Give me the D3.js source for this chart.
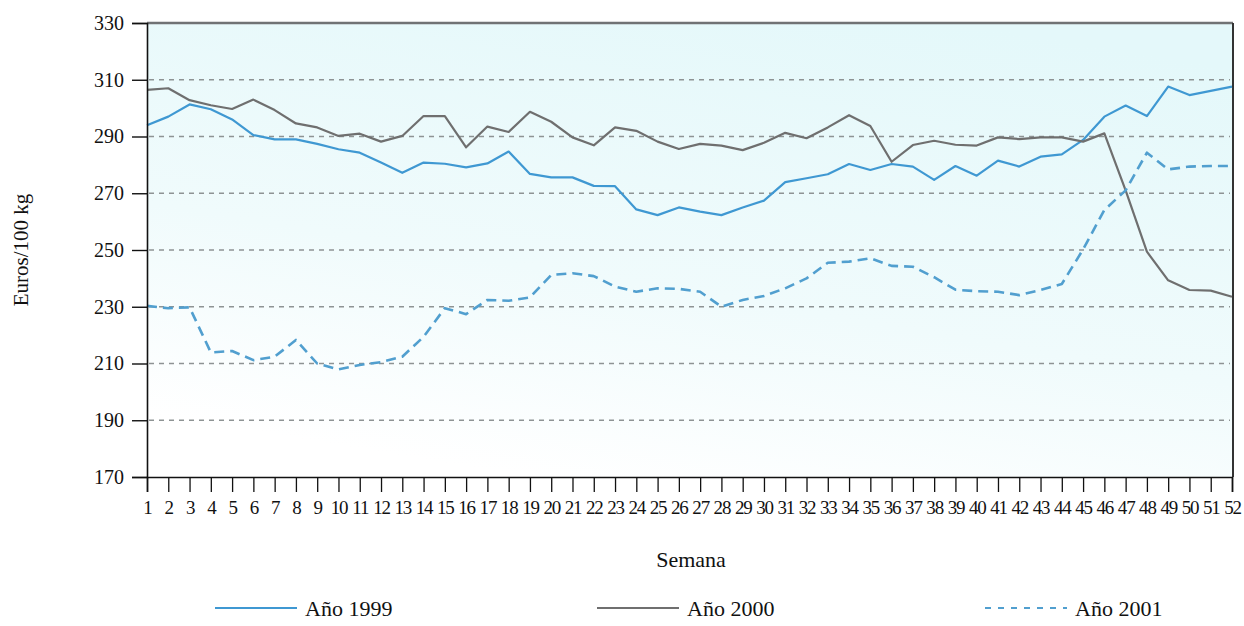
<!DOCTYPE html>
<html>
<head>
<meta charset="utf-8">
<script src="https://cdn.jsdelivr.net/npm/d3@7"></script>
<style>
  body { margin: 0; background: #fff; }
  svg { display: block; font-family: "Liberation Serif", "DejaVu Serif", serif; }
</style>
</head>
<body>
<div id="chart"></div>
<script>
const weeks = [1, 2, 3, 4, 5, 6, 7, 8, 9, 10, 11, 12, 13, 14, 15, 16, 17, 18, 19, 20,
  21, 22, 23, 24, 25, 26, 27, 28, 29, 30, 31, 32, 33, 34, 35, 36, 37, 38, 39, 40,
  41, 42, 43, 44, 45, 46, 47, 48, 49, 50, 51, 52];

const ano1999 = [294, 297, 301.3, 299.6, 296, 290.5, 289, 289, 287.4, 285.5, 284.3, 280.8,
  277.2, 280.8, 280.4, 279.1, 280.5, 284.7, 276.8, 275.6, 275.6, 272.6, 272.5, 264.3,
  262.3, 265, 263.5, 262.3, 265, 267.4, 273.9, 275.3, 276.7, 280.3, 278.2, 280.3,
  279.4, 274.7, 279.6, 276.2, 281.5, 279.4, 282.9, 283.7, 288.8, 297, 300.9, 297.2,
  307.6, 304.6, 306.1, 307.6];

const ano2000 = [306.4, 307, 302.8, 301, 299.7, 303, 299.3, 294.6, 293.2, 290.2, 291, 288.2,
  290.2, 297.2, 297.2, 286.2, 293.5, 291.6, 298.7, 295.2, 289.7, 286.9, 293.2, 292,
  288.2, 285.6, 287.4, 286.8, 285.2, 287.8, 291.3, 289.4, 293.2, 297.5, 293.7, 281.1,
  287, 288.5, 287.1, 286.8, 289.7, 289.1, 289.7, 289.7, 288.2, 291.1, 271, 249.4,
  239.3, 235.9, 235.7, 233.5];

const ano2001 = [230.3, 229.5, 229.8, 213.9, 214.4, 211.2, 212.4, 218.3, 210, 207.9, 209.5, 210.5,
  212.4, 219.4, 229.5, 227.4, 232.4, 232.1, 233.3, 241.2, 241.8, 240.8, 237.1, 235.3,
  236.5, 236.3, 235.3, 230, 232.4, 233.8, 236.5, 240, 245.5, 245.9, 247.1, 244.4,
  244.1, 240.4, 236, 235.5, 235.3, 234.1, 235.9, 238, 250.2, 264.1, 271, 284.3,
  278.4, 279.4, 279.6, 279.6];

const yTicks = [170, 190, 210, 230, 250, 270, 290, 310, 330];
const gridTicks = [190, 210, 230, 250, 270, 290, 310];

const seriesNames = ["Año 1999", "Año 2000", "Año 2001"];
const seriesColors = ["#3f98d2", "#6f6f6f", "#519fcf"];
const seriesDash = [null, null, "10,6"];

const width = 1244, height = 626;
const margin = { top: 23, right: 12, bottom: 149, left: 147 };

const svg = d3.select("#chart").append("svg")
  .attr("width", width)
  .attr("height", height);

const x = d3.scaleLinear().domain([1, 52]).range([margin.left, width - margin.right]);
const y = d3.scaleLinear().domain([170, 330]).range([height - margin.bottom, margin.top]);

// background fill of the plot, pale cyan fading to white at the bottom left
const grad = svg.append("defs").append("linearGradient")
  .attr("id", "bg")
  .attr("x1", "0.75").attr("y1", "0")
  .attr("x2", "0.35").attr("y2", "1");
grad.append("stop").attr("offset", "0").attr("stop-color", "#e4f8fa");
grad.append("stop").attr("offset", "0.6").attr("stop-color", "#f0fbfc");
grad.append("stop").attr("offset", "1").attr("stop-color", "#ffffff");

svg.append("rect")
  .attr("x", x(1)).attr("y", y(330))
  .attr("width", x(52) - x(1)).attr("height", y(170) - y(330))
  .attr("fill", "url(#bg)");

// dashed gridlines
svg.append("g")
  .selectAll("line")
  .data(gridTicks)
  .join("line")
  .attr("x1", x(1) + 2).attr("x2", x(52) - 2)
  .attr("y1", (d) => y(d)).attr("y2", (d) => y(d))
  .attr("stroke", "#8e9394")
  .attr("stroke-width", 1.3)
  .attr("stroke-dasharray", "5,5");

// top and right frame (shadowy in the scan)
svg.append("line")
  .attr("x1", x(1)).attr("x2", x(52) + 1)
  .attr("y1", y(330)).attr("y2", y(330))
  .attr("stroke", "#707274").attr("stroke-width", 2.5);
svg.append("line")
  .attr("x1", x(52) + 1).attr("x2", x(52) + 1)
  .attr("y1", y(330)).attr("y2", y(170))
  .attr("stroke", "#333").attr("stroke-width", 2);

// lines
const line = d3.line().x((d, i) => x(weeks[i])).y((d) => y(d));
[ano1999, ano2000, ano2001].forEach((s, k) => {
  svg.append("path")
    .datum(s)
    .attr("d", line)
    .attr("fill", "none")
    .attr("stroke", seriesColors[k])
    .attr("stroke-width", k === 2 ? 2.6 : 2.2)
    .attr("stroke-dasharray", seriesDash[k])
    .attr("stroke-linejoin", "round");
});

// y axis
const yAxis = svg.append("g")
  .attr("transform", `translate(${x(1)},0)`)
  .call(d3.axisLeft(y).tickValues(yTicks).tickSize(15).tickPadding(8).tickFormat(d3.format("d")));
yAxis.select(".domain").attr("stroke", "#111").attr("stroke-width", 1.6);
yAxis.selectAll(".tick line").attr("stroke", "#111").attr("stroke-width", 1.4);
yAxis.selectAll(".tick text")
  .attr("fill", "#111")
  .style("font-size", "20px")
  .style("font-family", "Liberation Serif, serif");

// x axis
const xAxis = svg.append("g")
  .attr("transform", `translate(0,${y(170)})`)
  .call(d3.axisBottom(x).tickValues(weeks).tickSize(15).tickPadding(9).tickFormat(d3.format("d")));
xAxis.select(".domain").attr("stroke", "#111").attr("stroke-width", 1.6);
xAxis.selectAll(".tick line").attr("stroke", "#111").attr("stroke-width", 1.3);
xAxis.selectAll(".tick text")
  .attr("fill", "#111")
  .style("font-size", "19px")
  .style("letter-spacing", "-1.2px")
  .style("font-family", "Liberation Serif, serif");

// axis titles
svg.append("text")
  .attr("x", 691)
  .attr("y", 567)
  .attr("text-anchor", "middle")
  .attr("fill", "#111")
  .style("font-size", "22px")
  .text("Semana");

svg.append("text")
  .attr("transform", `translate(28,${(y(170) + y(330)) / 2}) rotate(-90)`)
  .attr("text-anchor", "middle")
  .attr("fill", "#111")
  .style("font-size", "21px")
  .text("Euros/100 kg");

// legend
const legendX = [215, 597, 985];
const legend = svg.append("g").selectAll("g")
  .data(seriesNames)
  .join("g")
  .attr("transform", (d, i) => `translate(${legendX[i]},608)`);
legend.append("line")
  .attr("x1", 0).attr("x2", 82)
  .attr("stroke", (d, i) => seriesColors[i])
  .attr("stroke-width", 2)
  .attr("stroke-dasharray", (d, i) => (i === 2 ? "6,7" : null));
legend.append("text")
  .attr("x", 90)
  .attr("y", 8)
  .attr("fill", "#111")
  .style("font-size", "22px")
  .text((d) => d);
</script>
</body>
</html>
